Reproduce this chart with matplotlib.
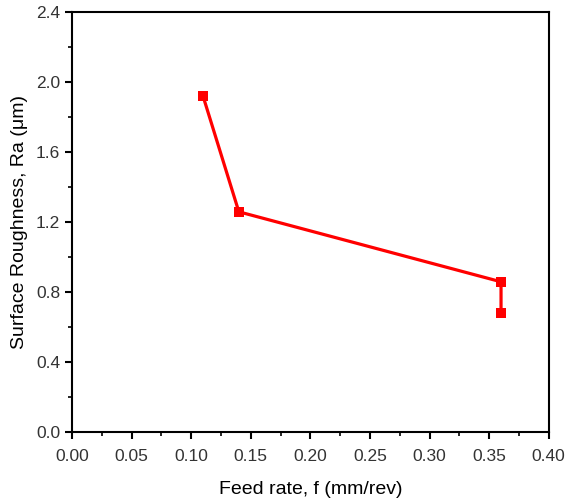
import matplotlib
matplotlib.use("Agg")
import matplotlib.pyplot as plt
from matplotlib.ticker import MultipleLocator

feed_rate = [0.11, 0.14, 0.36, 0.36]
roughness = [1.92, 1.26, 0.86, 0.68]

plt.rcParams['font.family'] = ['Liberation Sans', 'DejaVu Sans']

fig = plt.figure(figsize=(5.74, 5.03), dpi=100)
ax = fig.add_axes([72/574, 1-432.3/503, (548.7-72)/574, (432.3-12.3)/503])

ax.plot(feed_rate, roughness, color='#ff0000', lw=2.3, marker='s', markersize=6.5,
        markeredgewidth=0)

ax.set_xlim(0, 0.40)
ax.set_ylim(0, 2.4)
ax.xaxis.set_major_locator(MultipleLocator(0.05))
ax.xaxis.set_minor_locator(MultipleLocator(0.025))
ax.yaxis.set_major_locator(MultipleLocator(0.4))
ax.yaxis.set_minor_locator(MultipleLocator(0.2))
ax.xaxis.set_major_formatter(plt.FormatStrFormatter('%.2f'))
ax.yaxis.set_major_formatter(plt.FormatStrFormatter('%.1f'))

for s in ax.spines.values():
    s.set_linewidth(1.5)
ax.tick_params(which='major', direction='out', length=5, width=1.5, labelsize=12.5, colors='black')
ax.tick_params(which='minor', direction='out', length=3, width=1.2)
ax.tick_params(axis='x', pad=7)
for lbl in ax.get_xticklabels() + ax.get_yticklabels():
    lbl.set_color('#333333')

ax.set_xlabel('Feed rate, f (mm/rev)', fontsize=14, labelpad=12)
ax.set_ylabel('Surface Roughness, Ra (μm)', fontsize=14, labelpad=6)

fig.savefig('out.png', dpi=100)
